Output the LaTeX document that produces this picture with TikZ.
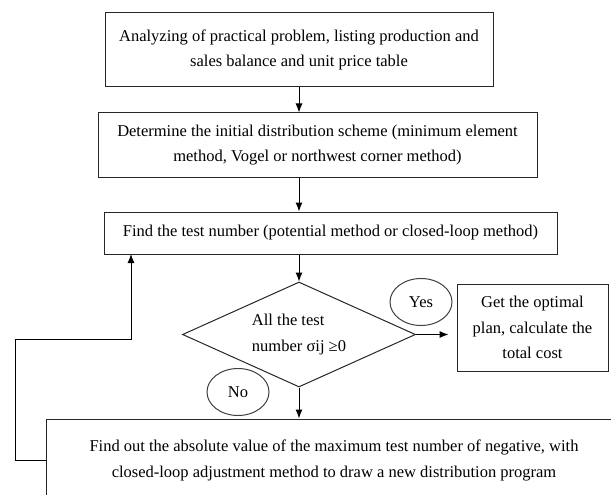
\documentclass[tikz,border=0pt]{standalone}
\usepackage{fontspec}
\setmainfont{Liberation Serif}
\usetikzlibrary{shapes.geometric,arrows.meta}

\begin{document}
\begin{tikzpicture}[x=1pt,y=-1pt,>={Latex[length=9pt,width=7pt]},line width=1pt,
    every node/.style={font=\fontsize{16.5}{25.5}\selectfont},
    box/.style={rectangle, draw=black!85, align=center, inner sep=0pt},
    tag/.style={ellipse, draw=black!75, inner sep=0pt, minimum width=62pt, minimum height=47pt}]
\path[use as bounding box, clip] (0,0) rectangle (611,495);
% Nodes
\node[box, minimum width=388pt, minimum height=74pt] (analyze) at (299,50)
    {Analyzing of practical problem, listing production and\\sales balance and unit price table};
\node[box, minimum width=439pt, minimum height=64pt] (init) at (317.5,145)
    {Determine the initial distribution scheme (minimum element\\method, Vogel or northwest corner method)};
\node[box, minimum width=453pt, minimum height=42pt] (find) at (330.5,233)
    {Find the test number (potential method or closed-loop method)};
\node[diamond, aspect=2.2, draw=black!85, inner sep=0pt, align=left, minimum width=233pt, minimum height=105pt] (check) at (299,334.5)
    {All the test\\number σij ≥0};
\node[box, minimum width=151pt, minimum height=87pt] (plan) at (532.5,327.5)
    {Get the optimal\\plan, calculate the\\total cost};
\node[box, minimum width=575pt, minimum height=83pt] (fix) at (334,460.5)
    {Find out the absolute value of the maximum test number of negative, with\\closed-loop adjustment method to draw a new distribution program};
\node[tag] (yes) at (421,302) {Yes};
\node[tag] (no) at (238,392) {No};
\coordinate (loop) at (15.6,339);
\coordinate (back) at (131,254);

% Edges
\draw[->] (analyze.south) -- (analyze.south |- init.north);
\draw[->] (init.south -| check) -- (find.north -| check);
\draw[->] (find.south -| check) -- (check.north);
\draw[->] (check.south) -- (fix.north -| check);
\draw[->, shorten >=8pt] (check.east) -- (check.east -| plan.west);
\draw[->] (fix.west) -| (loop) -| (back);
\end{tikzpicture}
\end{document}
